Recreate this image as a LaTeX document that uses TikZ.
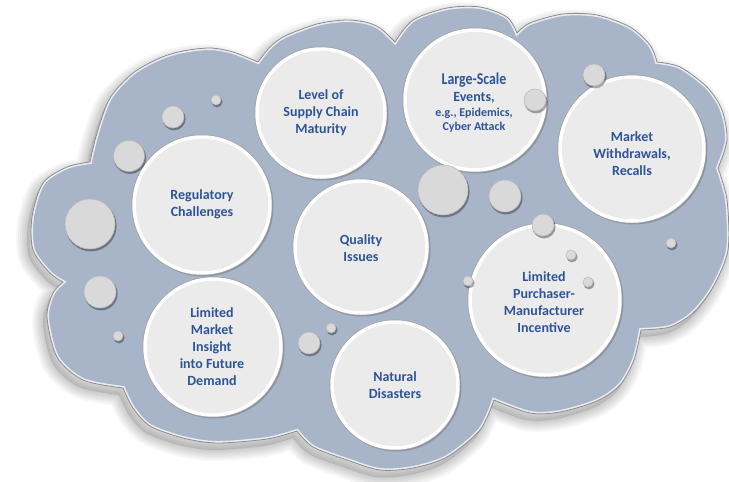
\documentclass[tikz,border=0pt]{standalone}
\usepackage{fontspec}
\setmainfont{Carlito}
\usepackage{graphicx}

\definecolor{cloudblue}{RGB}{168,180,200}
\definecolor{discfill}{RGB}{235,235,235}
\definecolor{bubblefill}{RGB}{217,217,217}
\definecolor{labelblue}{RGB}{46,84,150}
\definecolor{rimgray}{RGB}{140,140,140}

% outline of the cloud: one smooth arc per lobe, meeting at sharp cusps
\def\cloudpath{(90,162)
 -- plot[smooth] coordinates {(90,162) (97,133) (110,98) (133,73) (160,58) (183,51) (210,48) (233,52) (258,62)}
 -- plot[smooth] coordinates {(258,62) (270,47) (285,36) (317,24) (345,20) (365,22) (380,28) (395,42)}
 -- plot[smooth] coordinates {(395,42) (413,20) (447,8) (480,7) (507,17) (517,33)}
 -- plot[smooth] coordinates {(517,33) (530,23) (563,14) (597,15) (630,27) (650,45) (657,62)}
 -- plot[smooth] coordinates {(657,62) (680,67) (707,87) (722,110) (727,140) (718,168)}
 -- plot[smooth] coordinates {(718,168) (727,200) (728,250) (713,287) (693,313) (670,327) (641,330)}
 -- plot[smooth] coordinates {(641,330) (634,360) (620,385) (597,401) (560,412) (530,413) (494,400)}
 -- plot[smooth] coordinates {(494,400) (480,430) (447,457) (413,468) (380,470) (347,460) (313,447) (297,431)}
 -- plot[smooth] coordinates {(297,431) (267,439) (217,443) (183,438) (150,426) (133,408) (123,388)}
 -- plot[smooth] coordinates {(123,388) (83,380) (57,357) (47,317) (53,293) (63,282)}
 -- plot[smooth] coordinates {(63,282) (50,273) (33,250) (32,217) (43,183) (67,167) (90,162)}
 -- cycle}

\tikzset{
  disc/.style={circle, inner sep=0pt, fill=discfill, draw=white, line width=3.5pt,
    preaction={draw=rimgray!80, line width=5pt}},
  bubble/.style={circle, inner sep=0pt, fill=bubblefill, draw=gray!55, line width=0.5pt},
  lbl/.style={align=center, text=labelblue, inner sep=0pt,
    font=\bfseries\fontsize{14}{17}\selectfont},
}

% large labelled disc: name, x, y, radius
\newcommand\mydisc[4]{%
  \fill[black, opacity=0.18] (#2+1.5,#3+1.5) circle[radius=#4+2];
  \node[disc, minimum size=2*#4] (#1) at (#2,#3) {};
}
% small grey bubble: name, x, y, radius
\newcommand\mybubble[4]{%
  \fill[black, opacity=0.35] (#2+1,#3+1.8) circle[radius=#4+0.6];
  \node[bubble, minimum size=2*#4] (#1) at (#2,#3) {};
}

\begin{document}
\begin{tikzpicture}[x=1pt,y=-1pt]
\useasboundingbox (0,0) rectangle (729,482);
\fill[white] (0,0) rectangle (729,482);

% soft shadow of the cloud, built from widening translucent strokes
\begin{scope}[shift={(-4,7)}]
  \foreach \w in {22,18,14,10,6,2}{
    \draw[line width=\w pt, line join=round, black, draw opacity=0.035] \cloudpath;
  }
  \fill[black, opacity=0.1] \cloudpath;
\end{scope}

% cloud body with a light inner rim
\fill[cloudblue] \cloudpath;
\begin{scope}
  \clip \cloudpath;
  \draw[white, opacity=0.75, line width=4pt] \cloudpath;
\end{scope}
\draw[rimgray, line width=0.8pt] \cloudpath;

% labelled discs
\mydisc{lvl}{321}{113}{64}
\mydisc{lse}{475}{100}{70}
\mydisc{mkt}{632}{149}{72}
\mydisc{reg}{202}{205}{68}
\mydisc{qual}{361}{247}{66}
\mydisc{lmi}{213}{347}{68}
\mydisc{nat}{395}{385}{63}
\mydisc{lpm}{545}{300}{75}

% small bubbles
\mybubble{b1}{216}{100}{5}
\mybubble{b2}{173}{117}{11}
\mybubble{b3}{129}{156}{15.5}
\mybubble{b4}{90}{224}{25}
\mybubble{b5}{100}{292}{16}
\mybubble{b6}{118}{336}{5}
\mybubble{b7}{309}{343}{11}
\mybubble{b8}{331}{328}{5}
\mybubble{b9}{443}{190}{25}
\mybubble{b10}{505}{196}{16}
\mybubble{b11}{535}{100}{11}
\mybubble{b12}{594}{75}{11}
\mybubble{b13}{543}{225}{11}
\mybubble{b14}{571}{255}{5}
\mybubble{b15}{588}{282}{5}
\mybubble{b16}{468}{281}{5}
\mybubble{b17}{671}{243}{5}

% labels
\node[lbl] (lvl-t) at (321,113) {Level of\\Supply Chain\\Maturity};
\node[lbl] (lse-t) at (474,103) {{\fontsize{16.5}{17}\selectfont\scalebox{0.84}[1]{Large-Scale}}\\
  Events,\\[-2pt]
  {\fontsize{12}{14}\selectfont e.g., Epidemics,}\\[-3pt]
  {\fontsize{12}{14}\selectfont Cyber Attack}};
\node[lbl] (mkt-t) at (632,153.5) {Market\\Withdrawals,\\Recalls};
\node[lbl] (reg-t) at (202,204.5) {Regulatory\\Challenges};
\node[lbl] (qual-t) at (361,248.5) {Quality\\Issues};
\node[lbl] (lmi-t) at (212,347) {Limited\\Market\\Insight\\into Future\\Demand};
\node[lbl] (nat-t) at (395,385.5) {Natural\\Disasters};
\node[lbl] (lpm-t) at (544,302) {Limited\\Purchaser-\\Manufacturer\\Incentive};
\end{tikzpicture}
\end{document}
